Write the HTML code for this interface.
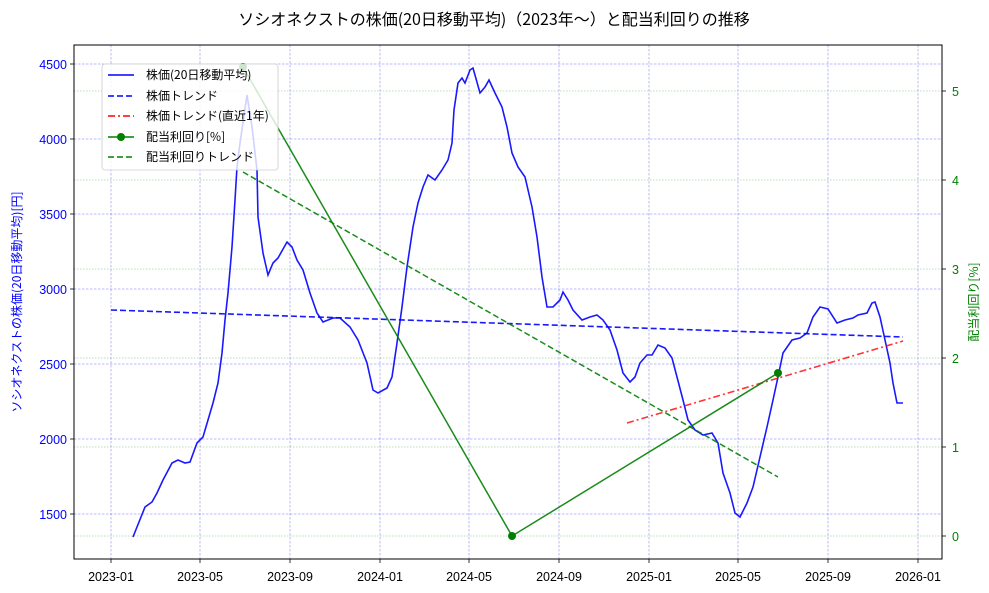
<!DOCTYPE html>
<html><head><meta charset="utf-8"><style>
body{margin:0;background:#fff}
svg{display:block;font-family:"Noto Sans CJK JP","Liberation Sans",sans-serif}
</style></head><body>
<svg width="989" height="593" viewBox="0 0 989 593" xmlns="http://www.w3.org/2000/svg">
<rect width="989" height="593" fill="#fff"/>
<text x="494" y="25" text-anchor="middle" font-size="16" fill="#000">ソシオネクストの株価(20日移動平均)（2023年〜）と配当利回りの推移</text>
<g stroke="#0000ff" stroke-opacity="0.55" stroke-width="0.5" stroke-dasharray="2.5,1.5">
<line x1="74" x2="942" y1="64" y2="64"/><line x1="74" x2="942" y1="139" y2="139"/><line x1="74" x2="942" y1="214" y2="214"/><line x1="74" x2="942" y1="289" y2="289"/><line x1="74" x2="942" y1="364" y2="364"/><line x1="74" x2="942" y1="439" y2="439"/><line x1="74" x2="942" y1="514" y2="514"/>
<line y1="45" y2="559" x1="111" x2="111"/><line y1="45" y2="559" x1="200" x2="200"/><line y1="45" y2="559" x1="290" x2="290"/><line y1="45" y2="559" x1="380" x2="380"/><line y1="45" y2="559" x1="469" x2="469"/><line y1="45" y2="559" x1="559" x2="559"/><line y1="45" y2="559" x1="649" x2="649"/><line y1="45" y2="559" x1="738" x2="738"/><line y1="45" y2="559" x1="828" x2="828"/><line y1="45" y2="559" x1="918" x2="918"/>
</g>
<g stroke="#008000" stroke-opacity="0.55" stroke-width="0.5" stroke-dasharray="1.5,1.5">
<line x1="74" x2="942" y1="91" y2="91"/><line x1="74" x2="942" y1="180" y2="180"/><line x1="74" x2="942" y1="269" y2="269"/><line x1="74" x2="942" y1="358" y2="358"/><line x1="74" x2="942" y1="447" y2="447"/><line x1="74" x2="942" y1="536" y2="536"/>
</g>
<polyline fill="none" stroke="#0000ff" stroke-width="1.6" stroke-opacity="0.9" points="133,537 137,527 145,507 152,502 157,493 163,480 172,463 178,460 185,463 190,462 197,443 203,437 208,420 213,403 218,383 222,353 225,320 228,293 232,247 235,200 237,167 240,143 247,95 252,127 257,170 258,217 263,253 268,275 273,263 278,258 287,242 292,247 297,260 303,270 310,293 317,313 323,322 333,318 340,318 350,327 358,340 367,363 373,390 378,393 387,388 392,377 397,343 402,307 407,267 413,227 418,203 423,187 428,175 435,180 442,170 448,160 452,143 454,110 458,83 462,78 465,83 470,70 473,68 480,93 485,87 489,80 495,93 502,107 507,127 512,153 518,167 525,177 532,207 537,237 542,277 547,307 553,307 560,300 563,292 568,300 573,310 582,320 590,317 597,315 603,320 610,330 617,350 623,373 630,382 635,377 640,363 647,355 652,355 658,345 665,348 672,358 677,377 683,400 688,420 695,430 703,435 712,433 718,443 723,473 730,493 735,513 740,517 747,503 753,487 760,457 767,427 773,400 778,377 783,353 792,340 800,338 807,333 813,317 820,307 828,309 837,323 845,320 853,318 858,315 867,313 872,303 875,302 880,317 885,340 890,363 893,383 897,403 903,403"/>
<line x1="111" y1="310" x2="903" y2="337" stroke="#0000ff" stroke-opacity="0.9" stroke-width="1.6" stroke-dasharray="6,3"/>
<line x1="627" y1="423" x2="903" y2="341" stroke="#ff0000" stroke-opacity="0.8" stroke-width="1.6" stroke-dasharray="7,3,2,3"/>
<line x1="243" y1="172" x2="778" y2="477" stroke="#008000" stroke-opacity="0.9" stroke-width="1.5" stroke-dasharray="6,3"/>
<polyline fill="none" stroke="#008000" stroke-opacity="0.9" stroke-width="1.5" points="243,67 512,536 778,373"/>
<circle cx="243" cy="67" r="4" fill="#008000"/><circle cx="512" cy="536" r="4" fill="#008000"/><circle cx="778" cy="373" r="4" fill="#008000"/>
<rect x="102" y="64" width="176" height="106" rx="3" fill="#fff" fill-opacity="0.8" stroke="#ccc" stroke-width="0.8"/>
<g font-size="12" fill="#000">
<line x1="108" x2="134" y1="75" y2="75" stroke="#0000ff" stroke-width="1.6"/><text x="146" y="79">株価(20日移動平均)</text>
<line x1="108" x2="134" y1="96" y2="96" stroke="#0000ff" stroke-width="1.6" stroke-dasharray="6,3"/><text x="146" y="100">株価トレンド</text>
<line x1="108" x2="134" y1="116" y2="116" stroke="#ff0000" stroke-width="1.6" stroke-dasharray="7,3,2,3"/><text x="146" y="120">株価トレンド(直近1年)</text>
<line x1="108" x2="134" y1="137" y2="137" stroke="#008000" stroke-width="1.6"/><circle cx="121" cy="137" r="4" fill="#008000"/><text x="146" y="141">配当利回り[%]</text>
<line x1="108" x2="134" y1="157" y2="157" stroke="#008000" stroke-width="1.6" stroke-dasharray="6,3"/><text x="146" y="161">配当利回りトレンド</text>
</g>
<rect x="74" y="45" width="868" height="514" fill="none" stroke="#000" stroke-width="1"/>
<g stroke="#000" stroke-width="0.8">
<line x1="70" x2="74" y1="64" y2="64"/><line x1="70" x2="74" y1="139" y2="139"/><line x1="70" x2="74" y1="214" y2="214"/><line x1="70" x2="74" y1="289" y2="289"/><line x1="70" x2="74" y1="364" y2="364"/><line x1="70" x2="74" y1="439" y2="439"/><line x1="70" x2="74" y1="514" y2="514"/>
<line x1="942" x2="946" y1="91" y2="91"/><line x1="942" x2="946" y1="180" y2="180"/><line x1="942" x2="946" y1="269" y2="269"/><line x1="942" x2="946" y1="358" y2="358"/><line x1="942" x2="946" y1="447" y2="447"/><line x1="942" x2="946" y1="536" y2="536"/>
<line y1="559" y2="563" x1="111" x2="111"/><line y1="559" y2="563" x1="200" x2="200"/><line y1="559" y2="563" x1="290" x2="290"/><line y1="559" y2="563" x1="380" x2="380"/><line y1="559" y2="563" x1="469" x2="469"/><line y1="559" y2="563" x1="559" x2="559"/><line y1="559" y2="563" x1="649" x2="649"/><line y1="559" y2="563" x1="738" x2="738"/><line y1="559" y2="563" x1="828" x2="828"/><line y1="559" y2="563" x1="918" x2="918"/>
</g>
<g font-size="12.5" fill="#0000ff" text-anchor="end" font-family="Liberation Sans, sans-serif">
<text x="67" y="69">4500</text><text x="67" y="144">4000</text><text x="67" y="219">3500</text><text x="67" y="294">3000</text><text x="67" y="369">2500</text><text x="67" y="444">2000</text><text x="67" y="519">1500</text>
</g>
<g font-size="12.5" fill="#008000" font-family="Liberation Sans, sans-serif">
<text x="952" y="96">5</text><text x="952" y="185">4</text><text x="952" y="274">3</text><text x="952" y="363">2</text><text x="952" y="452">1</text><text x="952" y="541">0</text>
</g>
<g font-size="12.5" fill="#000" text-anchor="middle" font-family="Liberation Sans, sans-serif">
<text x="111" y="581">2023-01</text><text x="200" y="581">2023-05</text><text x="290" y="581">2023-09</text><text x="380" y="581">2024-01</text><text x="469" y="581">2024-05</text><text x="559" y="581">2024-09</text><text x="649" y="581">2025-01</text><text x="738" y="581">2025-05</text><text x="828" y="581">2025-09</text><text x="918" y="581">2026-01</text>
</g>
<text transform="translate(21,302) rotate(-90)" text-anchor="middle" font-size="12" fill="#0000ff">ソシオネクストの株価(20日移動平均)[円]</text>
<text transform="translate(978,302) rotate(-90)" text-anchor="middle" font-size="12" fill="#008000">配当利回り[%]</text>
</svg>
</body></html>
